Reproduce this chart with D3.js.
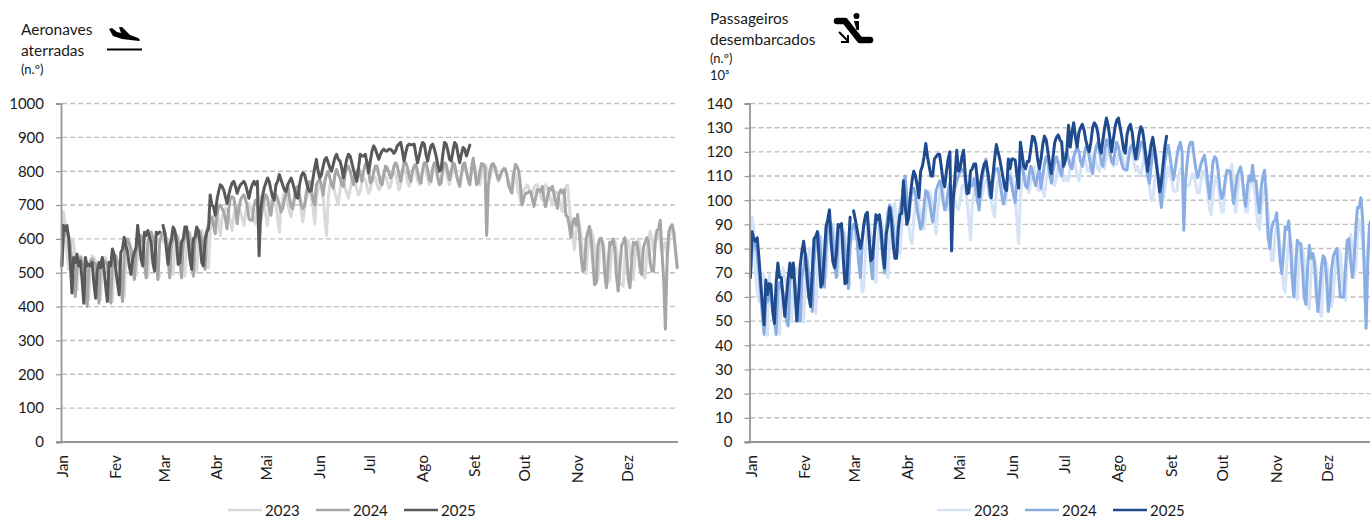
<!DOCTYPE html>
<html><head><meta charset="utf-8">
<script src="https://cdn.jsdelivr.net/npm/d3@7"></script>
<style>html,body{margin:0;padding:0;background:#fff;overflow:hidden}svg{display:block}text{font-family:Lato,"Open Sans",sans-serif;fill:#1a1a1a}</style>
</head><body><svg id="c" width="1370" height="518"></svg>
<script>
const monthLabels=["Jan","Fev","Mar","Abr","Mai","Jun","Jul","Ago","Set","Out","Nov","Dez"];
const monthStarts=[0,31,60,91,121,152,182,213,244,274,305,335];
const years=["2023","2024","2025"];
const landedTicks=[0,100,200,300,400,500,600,700,800,900,1000];
const paxTicks=[0,10,20,30,40,50,60,70,80,90,100,110,120,130,140];
const landed2023=[
530,680,640,560,510,570,600,590,520,450,
530,550,545,540,520,470,420,530,550,545,
535,520,470,420,530,545,545,530,510,465,
415,530,545,540,530,515,470,430,540,565,
590,575,545,510,490,560,590,600,590,570,
520,490,570,600,610,595,570,520,490,null,
590,610,600,590,560,505,495,570,600,610,
590,570,520,490,580,610,620,600,580,530,
500,590,620,625,610,590,540,515,630,645,
650,670,680,650,610,660,680,690,685,670,
650,625,670,690,700,695,680,660,640,680,
700,705,690,675,655,645,690,710,725,720,
700,670,640,690,710,730,725,700,660,620,
690,720,740,735,710,680,665,700,730,750,
745,720,680,650,690,720,735,740,725,690,
645,720,745,760,750,725,660,610,720,760,
770,755,735,720,700,745,770,770,750,735,
720,745,770,775,765,745,730,740,770,780,
775,755,735,745,775,785,780,760,745,750,
785,790,785,770,750,755,790,800,790,770,
745,760,795,805,795,770,755,770,800,810,
795,775,760,775,800,810,800,780,760,775,
805,815,800,775,760,780,800,815,795,775,
760,785,810,815,795,770,760,790,810,815,
795,780,770,790,815,815,790,775,760,790,
815,820,810,785,780,800,815,815,790,770,
780,800,810,805,785,760,750,770,800,790,
760,735,710,740,745,750,760,750,735,730,
750,760,760,745,725,715,745,760,750,735,
715,700,725,740,735,715,695,680,730,755,
760,700,650,620,568,620,640,645,610,560,
515,497,570,610,625,610,570,510,480,570,
600,590,560,490,470,480,560,590,595,570,
520,470,465,460,550,590,595,570,520,480,
540,590,600,570,530,490,485,560,600,622,
600,560,600,625,620,590,560,580,590,550,
590,620,630,610,560,520];
const landed2024=[
520,600,620,625,610,580,530,470,430,530,
525,545,530,520,470,400,520,535,540,530,
525,470,410,530,540,535,530,520,465,410,
535,545,550,530,520,470,415,550,590,600,
585,565,525,480,560,595,600,610,590,530,
485,590,610,620,600,590,530,480,590,610,
620,620,600,540,485,575,600,620,610,590,
530,485,580,610,620,620,600,550,490,590,
610,625,620,600,560,510,625,640,650,665,
640,615,670,695,700,690,680,660,630,690,
720,725,720,690,645,690,715,725,730,715,
695,660,655,655,700,715,700,665,655,690,
715,730,720,690,670,710,725,730,720,700,
680,690,715,735,760,720,695,690,720,750,
755,730,700,690,700,735,760,770,745,715,
700,760,770,775,760,730,770,790,800,780,
760,750,790,805,790,780,760,755,790,810,
815,800,780,760,790,800,810,790,770,800,
820,830,800,765,770,800,815,815,790,765,
760,790,815,810,795,780,790,815,825,815,
790,770,800,825,825,810,785,770,800,815,
820,800,775,765,805,825,825,805,775,770,
810,825,815,785,760,765,810,825,820,795,
775,800,825,820,790,770,755,790,820,825,
800,775,760,810,838,800,760,765,800,823,
820,810,610,760,800,820,822,810,790,775,
785,800,805,807,790,760,745,735,790,820,
815,800,760,700,720,735,735,740,740,720,
696,720,745,745,740,755,720,695,720,750,
745,755,730,710,690,735,745,735,745,670,
665,640,605,650,660,640,672,620,550,505,
510,600,620,637,600,530,465,470,580,600,
602,580,500,456,520,590,585,600,570,490,
446,510,580,590,603,560,480,456,530,590,
585,590,560,510,495,575,590,603,590,530,
505,505,590,625,630,655,560,480,333,530,
620,635,642,620,570,515];
const landed2025=[
520,640,625,640,605,530,440,545,530,555,
520,535,480,410,545,520,525,520,530,470,
425,505,530,515,545,510,460,415,530,520,
570,555,510,470,435,560,570,605,580,560,
520,495,540,560,575,640,590,540,520,620,
610,625,605,590,530,505,620,615,620,null,
640,620,570,525,580,600,635,625,590,525,
530,590,600,635,635,590,540,510,600,605,
635,625,585,530,520,600,620,630,730,700,
695,670,715,740,760,755,745,725,705,730,
750,765,770,755,735,750,760,765,770,760,
740,720,745,760,770,760,770,550,690,725,
750,765,780,770,745,725,715,760,770,790,
775,760,745,740,760,770,780,765,745,725,
720,760,785,795,790,770,750,740,745,780,
810,835,800,780,790,815,835,840,825,810,
800,820,840,850,835,830,810,780,810,835,
850,845,825,805,785,770,810,850,845,845,
850,825,795,830,860,875,865,850,835,850,
860,865,860,860,865,865,860,853,860,875,
880,885,860,830,855,875,880,878,878,880,
850,825,845,870,885,880,850,830,855,875,
880,865,845,820,800,805,850,885,880,860,
835,830,860,885,878,850,825,850,870,865,
845,860,877];
const pax2023=[
68,93,88,70,62,58,66,70,68,58,
44,69,62,60,58,52,47,44.5,66,72,
68,64,58,52,49.6,66,72,72,68,62,
54,49.6,68,74,78,80,72,60,53,72,
82,85,82,76,68,82,88,90,90,84,
76,69,84,89,88,86,78,70,65,null,
84,86,84,78,70,62,64,80,88,90,
86,76,68,66,82,90,92,88,80,70,
68,86,94,97,98.6,90,82,78,90,98,
100,98,90,84,82,92,100,102,98,94,
90,88,96,102,104,102,98,92,86,96,
102,106,104,100,96,96,100,106,103,100,
97,96,100,106,106,104,100,92,83.5,98,
103,108,106,103,100,103,106,108,108,104,
100,96,93,104,108,108,106,102,98,104,
108,112,110,106,100,92,82,102,108,112,
110,106,103,108,112,114,110,105,104,106,
104,101.4,108,112,114,112,108,106,110,114,
116,113,108,110,108,108,114,117,118,114,
110,108,112,117,118,116,112,112,116,119,
119,116,113,112,117,119,113,118,120,120,
117,114,115,114.7,119,120,120,116,113,116,
120,122,120,116,112,114,112,110,114,118,
116,112,106,100,100,108,112,111,106,100,
100,104,110,114,112,108,104,103.5,104,110,
113,112,108,106,106,106,108,111,110,106,
103,103,108,112,112,108,103,96,94,102,
108,110,106,100,95,95,106,110,112,113,
115,105,95,100,108,110,108,102,95,95,
104,110,108,104,98,90,88,96,102,105,
105,95,85,75,75,85,90,88,82,72,
64,62,75,84,84,80,72,62,59,74,
82,80,76,66,57,55,70,78,76,72,
62,54,52,68,75,74,70,62,56,62,
72,78,80,78,70,60,58.6,75,82,86,
78,68,72,85,92,88,82,74,70,80,
88,90,88,80,72,66];
const pax2024=[
68,78,84,82,78,70,62,52,44.5,60,
58,63,60,55,50,44.5,62,66,64,62,
56,50,48,66,71,70,66,58,50,50,
68,72,78,75,70,62,54,74,82,87,
85,78,70,64,80,90,92,90,84,74,
68,84,90,88,86,80,70,63.5,80,88,
90,88,84,74,68,82,90,93,92,84,
74,67.5,85,92,92,90,84,76,70,88,
95,98,96,90,82,76,90,96,100,106,
110,100,92,99,104,105,102,96,92,88,
90,98,104,103,100,95,91,96,104,106,
108,106,100,96,98,104,107,100,101,105,
108,110,112,112,113,108,103,104,106,106,
109,105,100,96,104,110,114,117,110,102,
101,108,112,113,113,108,103,98.5,101,108,
110,110,106,102,99,108,113,116,114,110,
106,105,110,114,112,108,106,110,113,105,
110,115,118,116,111,107,112,116,118,115,
112,110,116,119,120,117,114,113,118,120,
122,120,116,114,118,122,122,118,114,111,
118,122,124,120,116,114,120,125,124,120,
116,115,120,124,122,118,115,113,112.5,112.5,
118,122,123,120,118,117,120,124,124,120,
115,110,107,114,120,122,118,110,103,97,
108,116,120,122.8,118,113,108.5,113,118,122,
124,120,87.6,108,116,122,124,124,118,113,
109.4,112,115,117,118.6,114,107,100.7,108,116,
118,117,112,105,100.7,102,108,112.4,112,112,
105,98.6,104,110,112,113.8,110,102,97.5,106,
110,108,114.5,108,108,100,94.8,105,110,112.4,
100,85,80,88,91,91.5,94.8,85,75,69.7,
78,89,88,91.4,82,68,60,72,83.4,82,
82,72,60,57,72,81.4,76,78,74,62,
54,62,72,77,76,68,54,60,72,77,
78.6,80,70,60,60,60,72,83.4,84,75,
68,75,88,97,97,101,92,70,47,75,
90,92,94,92,85,76];
const pax2025=[
68,87,84,83,84.5,76,66,57,48.5,67,
61,65.5,65,54,49,66,74,68,68,60,
52,60,68,74,68,74,62,50,60,73,
79,83,77,68,60,56,70,84,85,87,
75,64,66,77,89,92,96,82,74.5,72,
78,90,89,90.3,76,65.5,66,80,93,null,
95.6,92,88,84,80,84,90,94,95,85,
75,76,85,94,92,94,88,78,72,86,
90,97,92,82,76,76,88,94,94.5,108,
98,90,93,102,108,112,110,106,101,112,
114,118,123.5,118,114,110,110,117,118,119,
119,114,108,105.5,112,117,120,79,101,110,
120.7,112,113,118,120.7,110,102.7,103,112,113,
115,115,108,101.4,108,112,115,116,112,107,
101,110,117,123,120,117,113,109,105,104,
117,113,117,117,116.5,110,105,124,119,114,
113,116,116,121,126.5,126,123,117,113,117,
123,126.5,125,120,115,111,118,124,126,127,
125,124,114,116,120,131,122,128,132,126,
122,128,130,131.4,129,125,122,120,124,130,
132,131,128,122,119.5,125,130,134,131,126,
120,125,130,133,134,130,126,121,119.5,127,
130,131.4,128,122,117,122,127,130.4,129,124,
118,112,118,123,126,121,115,110,103.5,108,
115,122,126.5];

const svg=d3.select("#c");
function chart(cfg){
  const x=d3.scaleLinear().domain([0,366]).range([cfg.left,cfg.right]);
  const y=d3.scaleLinear().domain([0,cfg.max]).range([442,103.5]);
  const g=svg.append("g");
  g.append("g").selectAll("line").data(cfg.ticks.filter(d=>d>0)).join("line")
    .attr("x1",cfg.left+1).attr("x2",cfg.gridEnd).attr("y1",d=>y(d)).attr("y2",d=>y(d))
    .attr("stroke","#bfbfbf").attr("stroke-width",1.4).attr("stroke-dasharray","5 3");
  const line=d3.line().defined(d=>d!==null).x((d,i)=>x(i+0.5)).y(d=>y(d));
  cfg.series.forEach((s,i)=>{
    g.append("path").datum(s).attr("d",line).attr("fill","none").attr("stroke",cfg.colors[i])
     .attr("stroke-width",3).attr("stroke-linejoin","round").attr("stroke-linecap","round");
  });
  const ya=g.append("g").attr("transform",`translate(${cfg.left},0)`)
    .call(d3.axisLeft(y).tickValues(cfg.ticks).tickFormat(d3.format("d")).tickSize(5).tickPadding(12));
  ya.selectAll("text").style("font-size","15px").attr("fill","#1a1a1a");
  ya.selectAll("line").attr("stroke","#969696").attr("stroke-width",1.2);
  ya.select(".domain").attr("stroke","#969696").attr("stroke-width",1.8);
  const xa=g.append("g").attr("transform","translate(0,442)")
    .call(d3.axisBottom(x).tickValues(monthStarts).tickFormat((d,i)=>monthLabels[i]).tickSize(0));
  xa.select(".domain").attr("stroke","#969696").attr("stroke-width",1.8).attr("d",`M${cfg.left-5},0H${cfg.gridEnd}`);
  xa.selectAll("text").attr("transform","translate(1.5,13) rotate(-90)").attr("text-anchor","end")
    .attr("x",0).attr("y",0).attr("dy","0.35em").style("font-size","15.5px").attr("fill","#1a1a1a");
  const lg=g.append("g").selectAll("g").data(years).join("g");
  lg.append("line").attr("x1",(d,i)=>cfg.legend[i]).attr("x2",(d,i)=>cfg.legend[i]+34)
    .attr("y1",510).attr("y2",510).attr("stroke",(d,i)=>cfg.colors[i]).attr("stroke-width",2.6);
  lg.append("text").attr("x",(d,i)=>cfg.legend[i]+37).attr("y",515.5).text(d=>d).style("font-size","15px");
}
chart({left:61,right:678,gridEnd:678,max:1000,ticks:landedTicks,series:[landed2023,landed2024,landed2025],
  colors:["#d9d9d9","#a6a6a6","#595959"],legend:[228,316,404]});
chart({left:749.5,right:1379,gridEnd:1370,max:140,ticks:paxTicks,series:[pax2023,pax2024,pax2025],
  colors:["#d6e3f6","#8aaee3","#1f4b8e"],legend:[937,1025,1113]});

function label(x,y,t,s){return svg.append("text").attr("x",x).attr("y",y).text(t).style("font-size",s+"px");}
label(21,35,"Aeronaves",15.5);label(21,56,"aterradas",15.5);label(21,74,"(n.º)",13);
label(710,24,"Passageiros",15.5);label(710,45,"desembarcados",15.5);label(710,63,"(n.º)",13);label(710,80,"10³",13);
// icons
svg.append("path").attr("d","M109,29 L112,28 L117,32 L121,33 L119,27 L122,27 L130,35 L138,38 Q141,40 139,41 L122,39 L113,36 Z").attr("fill","#000");
svg.append("line").attr("x1",107).attr("x2",142).attr("y1",49.5).attr("y2",49.5).attr("stroke","#000").attr("stroke-width",2);
svg.append("path").attr("d","M837,21 H845 L860,40 H870").attr("fill","none").attr("stroke","#000").attr("stroke-width",6.5).attr("stroke-linecap","round").attr("stroke-linejoin","round");
svg.append("circle").attr("cx",856.5).attr("cy",16).attr("r",3).attr("fill","#000");
svg.append("path").attr("d","M854,21 H859 V30 H856.5 Z").attr("fill","#000");
svg.append("path").attr("d","M839,32 L848,41 M848,35 V42 H841").attr("fill","none").attr("stroke","#000").attr("stroke-width",2);
</script></body></html>
